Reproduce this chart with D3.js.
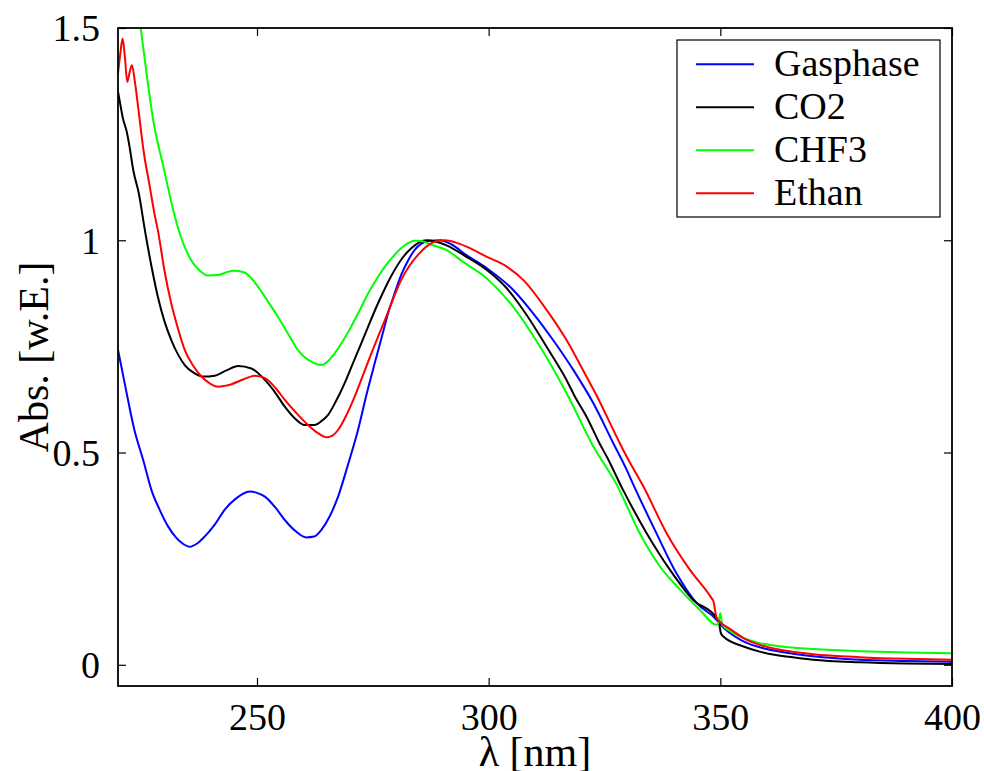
<!DOCTYPE html>
<html>
<head>
<meta charset="utf-8">
<script src="https://cdn.jsdelivr.net/npm/d3@7/dist/d3.min.js"></script>
<style>
  html, body { margin: 0; padding: 0; background: #fff; }
  svg { display: block; }
  text { font-family: "Liberation Serif", "Times New Roman", serif; fill: #000; }
</style>
</head>
<body>
<script>
// ---------- data ----------
const seriesNames = ["Gasphase", "CO2", "CHF3", "Ethan"];
const seriesColors = ["#0000ff", "#000000", "#00ff00", "#ff0000"];

const gasWl = [220,221.5,223.5,225.5,227.2,229,230.8,232.5,234,235.5,237,238.7,241,243,245.5,248.4,250,251.7,254,256,258.3,260.6,262.3,263.9,265.7,267.5,269.6,271.8,273.6,275.4,277,278.3,279.7,281.1,282.5,284,285.5,287,289.5,292,295.2,299.6,305.3,309.6,313.9,318.3,322.6,326.9,329.8,331.2,336.2,340.5,344.9,349.2,350,355,360,365,370,380,390,400];
const gasAbs = [0.742,0.66,0.555,0.48,0.412,0.365,0.326,0.30,0.285,0.278,0.285,0.302,0.332,0.365,0.392,0.408,0.405,0.396,0.37,0.341,0.315,0.300,0.302,0.318,0.35,0.396,0.47,0.553,0.635,0.71,0.775,0.828,0.875,0.918,0.95,0.977,0.992,0.998,1.0,0.99,0.965,0.934,0.883,0.828,0.765,0.694,0.616,0.522,0.459,0.425,0.310,0.216,0.145,0.106,0.095,0.055,0.037,0.027,0.02,0.012,0.009,0.007];

const co2Wl = [220,220.5,221,221.9,222.5,223.3,224.5,225.8,227.2,228.6,230,231.5,233,234.4,236.3,238.3,240.9,243.5,245.9,248.8,251.7,254,256,258.2,260.3,262.4,263.9,265.3,267,268.9,270.7,272.5,274.3,276.1,277.9,279.7,281.5,283.3,285,286.6,288.5,290.9,295.2,299.6,303.9,308.2,312.5,316.8,318.6,321.1,324,325.5,329,334.1,339.1,344.1,349.2,349.7,350.1,350.6,355,358.5,362,366,370,380,390,400];
const co2Abs = [1.35,1.32,1.29,1.255,1.22,1.165,1.11,1.024,0.94,0.867,0.81,0.765,0.73,0.706,0.688,0.679,0.681,0.694,0.704,0.698,0.671,0.64,0.608,0.58,0.565,0.565,0.574,0.588,0.62,0.663,0.71,0.757,0.805,0.851,0.893,0.930,0.96,0.981,0.995,1.0,0.997,0.988,0.961,0.930,0.887,0.824,0.749,0.671,0.632,0.585,0.52,0.49,0.412,0.310,0.224,0.153,0.110,0.10,0.075,0.067,0.043,0.031,0.023,0.017,0.012,0.006,0.003,0.002];

const chfWl = [220,222,224.9,226.2,227.6,229.8,232.3,233.5,235.8,237.5,239.4,241.6,243.5,245.2,247.3,250.2,252.3,254.5,256.7,258.8,261.7,263.9,265.3,266.8,268.5,270.3,272.2,274,275.8,277.6,279.4,281.1,282.6,284,285.5,287.5,290.9,294.5,299.6,305.3,311.1,316.8,322.6,327.6,332.6,337,341.3,345.6,349.2,349.7,350,350.4,352,355,358.5,362,366,370,380,390,400];
const chfAbs = [1.85,1.7,1.5,1.39,1.283,1.173,1.055,1.01,0.953,0.93,0.917,0.918,0.925,0.928,0.924,0.891,0.857,0.820,0.78,0.742,0.714,0.706,0.715,0.734,0.762,0.796,0.836,0.875,0.908,0.938,0.962,0.981,0.993,0.999,0.998,0.99,0.977,0.949,0.910,0.843,0.749,0.640,0.514,0.425,0.310,0.231,0.177,0.129,0.094,0.105,0.122,0.095,0.08,0.063,0.051,0.045,0.040,0.037,0.032,0.029,0.027];

const ethWl = [220,220.5,221,221.5,222,222.5,223,223.7,224.5,225.5,226.8,228,228.6,230,231.5,233,234.4,236.2,238,239.8,241.6,243,244.5,247,249.5,251.7,254,256,258.5,261,263,265,266.3,267.5,269.3,271.1,272.9,274.7,276.2,277.6,279.4,281.1,282.9,284.7,286.9,288.5,290.6,292.8,295.2,299.6,303.9,307.5,312.5,316.8,321.1,323.6,325.5,328.3,329.8,333.4,338.4,343.4,348.1,348.5,349.2,350,352,355,358.5,362,366,370,380,390,400];
const ethAbs = [1.393,1.44,1.475,1.43,1.373,1.395,1.412,1.369,1.30,1.212,1.13,1.055,1.024,0.93,0.851,0.79,0.742,0.705,0.679,0.663,0.655,0.657,0.661,0.672,0.681,0.675,0.652,0.624,0.593,0.565,0.547,0.536,0.54,0.553,0.588,0.632,0.683,0.734,0.775,0.812,0.862,0.906,0.94,0.965,0.988,0.997,1.0,0.995,0.985,0.961,0.938,0.906,0.836,0.765,0.679,0.628,0.585,0.522,0.49,0.420,0.310,0.224,0.157,0.15,0.110,0.10,0.085,0.063,0.047,0.037,0.030,0.025,0.018,0.014,0.012];

const xTicks = [250, 300, 350, 400];
const yTicks = [0, 0.5, 1, 1.5];
const yTickLabels = ["0", "0.5", "1", "1.5"];
const xTitle = "λ [nm]";
const yTitle = "Abs. [w.E.]";

// ---------- layout ----------
const W = 984, H = 771;
const L = 118, R = 952, T = 28, B = 686;

const svg = d3.select("body").append("svg").attr("width", W).attr("height", H);

const x = d3.scaleLinear().domain([220, 400]).range([L, R]);
const y = d3.scaleLinear().domain([-0.05, 1.5]).range([B, T]);

svg.append("defs").append("clipPath").attr("id", "plotclip")
  .append("rect").attr("x", L).attr("y", T).attr("width", R - L).attr("height", B - T);

const series = [
  {wl: gasWl, v: gasAbs},
  {wl: co2Wl, v: co2Abs},
  {wl: chfWl, v: chfAbs},
  {wl: ethWl, v: ethAbs}
].map((s, i) => ({name: seriesNames[i], color: seriesColors[i], pts: s.wl.map((w, j) => [w, s.v[j]])}));

const line = d3.line().x(d => x(d[0])).y(d => y(d[1])).curve(d3.curveMonotoneX);

const g = svg.append("g").attr("clip-path", "url(#plotclip)");
series.forEach(s => {
  g.append("path").datum(s.pts).attr("d", line)
    .attr("fill", "none").attr("stroke", s.color).attr("stroke-width", 2)
    .attr("stroke-linejoin", "round");
});

// ---------- axes (box with inward ticks) ----------
const tickLen = 8;
const axB = d3.axisBottom(x).tickValues(xTicks).tickSizeInner(-tickLen).tickSizeOuter(0).tickPadding(17);
const axT = d3.axisTop(x).tickValues(xTicks).tickSizeInner(-tickLen).tickSizeOuter(0).tickFormat("");
const axL = d3.axisLeft(y).tickValues(yTicks).tickSizeInner(-tickLen).tickSizeOuter(0).tickPadding(18)
  .tickFormat((d, i) => yTickLabels[i]);
const axR = d3.axisRight(y).tickValues(yTicks).tickSizeInner(-tickLen).tickSizeOuter(0).tickFormat("");

function styleAxis(sel) {
  sel.select(".domain").remove();
  sel.selectAll(".tick line").attr("stroke", "#000").attr("stroke-width", 1.2);
  sel.selectAll(".tick text").attr("font-family", '"Liberation Serif", serif').attr("font-size", 38).attr("fill", "#000");
}
const gB = svg.append("g").attr("transform", `translate(0,${B})`).call(axB).call(styleAxis);
gB.selectAll(".tick text").attr("dy", "0.71em");
svg.append("g").attr("transform", `translate(0,${T})`).call(axT).call(styleAxis);
const gL = svg.append("g").attr("transform", `translate(${L},0)`).call(axL).call(styleAxis);
gL.selectAll(".tick text").attr("dy", "0.34em");
svg.append("g").attr("transform", `translate(${R},0)`).call(axR).call(styleAxis);

svg.append("rect").attr("x", L).attr("y", T).attr("width", R - L).attr("height", B - T)
  .attr("fill", "none").attr("stroke", "#000").attr("stroke-width", 1.8);

// ---------- titles ----------
svg.append("text").attr("x", (L + R) / 2).attr("y", 766).attr("text-anchor", "middle")
  .attr("font-size", 42).text(xTitle);
svg.append("text").attr("transform", `translate(48,${(T + B) / 2}) rotate(-90)`)
  .attr("text-anchor", "middle").attr("font-size", 42).text(yTitle);

// ---------- legend ----------
const lg = svg.append("g");
lg.append("rect").attr("x", 677).attr("y", 40).attr("width", 263).attr("height", 177)
  .attr("fill", "#fff").attr("stroke", "#000").attr("stroke-width", 1.2);
series.forEach((s, i) => {
  const yy = 64.3 + i * 43;
  lg.append("line").attr("x1", 696).attr("x2", 754).attr("y1", yy).attr("y2", yy)
    .attr("stroke", s.color).attr("stroke-width", 2);
  lg.append("text").attr("x", 774).attr("y", yy + 12).attr("font-size", 38).text(s.name);
});
</script>
</body>
</html>
